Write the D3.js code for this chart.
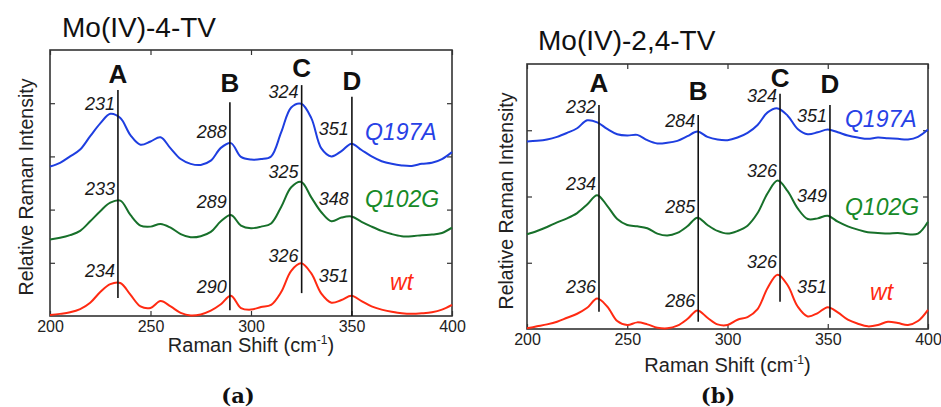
<!DOCTYPE html>
<html>
<head>
<meta charset="utf-8">
<script src="https://cdn.jsdelivr.net/npm/d3@7"></script>
<style>
  body { margin: 0; background: #fff; }
  svg { display: block; font-family: "Liberation Sans", Arial, sans-serif; }
</style>
</head>
<body>
<svg id="chart" width="941" height="407"></svg>
<script>
// Raman shift sampling (cm-1), shared by all traces
const shift = [200,205,210,215,220,225,230,235,240,245,250,255,260,265,270,275,280,285,290,295,
               300,305,310,315,320,325,330,335,340,345,350,355,360,365,370,375,380,385,390,395,400];

const seriesNames = ["Q197A", "Q102G", "wt"];
const xTicks = [200, 250, 300, 350, 400];
const markerNames = ["A", "B", "C", "D"];

// panel (a) Mo(IV)-4-TV, offset traces
const a_Q197A = [2.81,2.88,3.00,3.13,3.38,3.62,3.80,3.72,3.40,3.22,3.28,3.36,3.15,2.95,2.86,2.84,2.92,3.16,3.25,2.99,
                 2.94,2.95,3.00,3.45,3.92,3.99,3.72,3.15,3.00,3.10,3.24,3.12,3.00,2.91,2.86,2.83,2.82,2.86,2.88,2.95,3.08];
const a_Q102G = [1.44,1.47,1.52,1.60,1.78,1.97,2.13,2.17,1.90,1.70,1.68,1.73,1.66,1.54,1.48,1.50,1.58,1.78,1.90,1.70,
                 1.65,1.68,1.74,2.05,2.42,2.52,2.23,1.95,1.78,1.85,1.87,1.77,1.68,1.60,1.54,1.50,1.50,1.52,1.53,1.56,1.66];
const a_wt    = [0.02,0.04,0.07,0.13,0.25,0.45,0.60,0.62,0.40,0.18,0.15,0.28,0.18,0.06,0.01,0.03,0.10,0.22,0.38,0.15,
                 0.12,0.17,0.21,0.45,0.85,0.99,0.80,0.42,0.25,0.30,0.38,0.28,0.18,0.12,0.08,0.05,0.04,0.05,0.07,0.12,0.21];
const a_yTicks = [1, 2, 3, 4];
const a_markerShift = [233.8, 289.5, 325.2, 350.2];
const a_markerTop = [4.25, 4.02, 4.34, 4.12];
const a_markerBottom = [0.34, 0.11, 0.43, 0.0];
const a_letterY = [4.38, 4.21, 4.49, 4.25];
const a_peaks = [[231, 288, 324, 351], [233, 289, 325, 348], [234, 290, 326, 351]];
const a_peakY = [[3.87, 3.35, 4.10, 3.40], [2.27, 2.03, 2.59, 2.09], [0.73, 0.43, 1.02, 0.64]];
const a_nameX = [356.7, 356.7, 369.2];
const a_nameY = [3.31, 2.05, 0.49];

// panel (b) Mo(IV)-2,4-TV
const b_Q197A = [2.83,2.84,2.86,2.90,2.96,3.03,3.15,3.12,3.02,2.94,2.92,2.93,2.85,2.80,2.81,2.84,2.91,2.98,2.90,2.86,
                 2.85,2.89,2.96,3.08,3.27,3.33,3.22,3.02,2.94,2.97,3.01,2.97,2.92,2.89,2.87,2.89,2.88,2.87,2.86,2.90,3.01];
const b_Q102G = [1.43,1.48,1.54,1.61,1.67,1.75,1.88,2.02,1.86,1.66,1.57,1.55,1.52,1.44,1.41,1.45,1.55,1.68,1.57,1.48,
                 1.44,1.48,1.56,1.75,2.05,2.24,2.08,1.82,1.66,1.67,1.71,1.62,1.55,1.50,1.46,1.45,1.44,1.45,1.43,1.44,1.62];
const b_wt    = [0.01,0.04,0.07,0.11,0.17,0.23,0.32,0.46,0.34,0.12,0.06,0.10,0.07,0.02,0.01,0.05,0.15,0.28,0.17,0.07,
                 0.06,0.14,0.18,0.30,0.62,0.82,0.66,0.34,0.19,0.24,0.33,0.25,0.14,0.08,0.04,0.06,0.11,0.09,0.06,0.12,0.29];
const b_yTicks = [1, 2, 3];
const b_markerShift = [235.9, 285.4, 326.2, 351.1];
const b_markerTop = [3.38, 3.23, 3.55, 3.38];
const b_markerBottom = [0.26, 0.11, 0.41, 0.17];
const b_letterY = [3.58, 3.45, 3.66, 3.56];
const b_peaks = [[232, 284, 324, 351], [234, 285, 326, 349], [236, 286, 326, 351]];
const b_peakY = [[3.26, 3.05, 3.43, 3.12], [2.10, 1.75, 2.29, 1.92], [0.54, 0.33, 0.92, 0.54]];
const b_nameX = [358.6, 358.6, 371.1];
const b_nameY = [3.05, 1.72, 0.44];

const lineColors = ["#1e3ee0", "#17702a", "#ff2a12"];
const textColors = ["#2741e6", "#168a28", "#ff2a12"];

const svg = d3.select("#chart");

function drawPanel(p) {
  const x = d3.scaleLinear().domain([200, 400]).range([p.left, p.right]);
  const y = d3.scaleLinear().domain([0, p.yMax]).range([p.bottom, p.top]);
  const g = svg.append("g");

  g.append("text")
    .attr("x", p.titleX).attr("y", p.titleY)
    .attr("font-size", 28).attr("fill", "#111")
    .text(p.title);

  // axes, ticks on the inside of the box
  g.append("g").attr("transform", `translate(0,${p.bottom})`)
    .call(d3.axisBottom(x).tickValues(xTicks).tickSize(-5).tickPadding(5))
    .call(a => a.select(".domain").remove())
    .call(a => a.selectAll("text").attr("font-size", 16).attr("fill", "#222")
      .attr("font-family", "Liberation Sans, Arial, sans-serif"));
  g.append("g").attr("transform", `translate(0,${p.top})`)
    .call(d3.axisTop(x).tickValues(xTicks).tickSize(-5).tickFormat(""))
    .call(a => a.select(".domain").remove());
  g.append("g").attr("transform", `translate(${p.left},0)`)
    .call(d3.axisLeft(y).tickValues(p.yTicks).tickSize(-5).tickFormat(""))
    .call(a => a.select(".domain").remove());
  g.append("g").attr("transform", `translate(${p.right},0)`)
    .call(d3.axisRight(y).tickValues(p.yTicks).tickSize(-5).tickFormat(""))
    .call(a => a.select(".domain").remove());
  g.selectAll(".tick line").attr("stroke", "#333").attr("stroke-width", 1.2);

  g.append("rect")
    .attr("x", p.left).attr("y", p.top)
    .attr("width", p.right - p.left).attr("height", p.bottom - p.top)
    .attr("fill", "none").attr("stroke", "#333").attr("stroke-width", 1.6);

  // spectra
  const line = d3.line()
    .x((d, i) => x(shift[i]))
    .y(d => y(d))
    .curve(d3.curveCatmullRom);
  p.series.forEach((s, k) => {
    g.append("path")
      .datum(s)
      .attr("d", line)
      .attr("fill", "none")
      .attr("stroke", lineColors[k])
      .attr("stroke-width", 2);
  });

  // peak marker lines and letters
  markerNames.forEach((m, i) => {
    g.append("line")
      .attr("x1", x(p.markerShift[i])).attr("x2", x(p.markerShift[i]))
      .attr("y1", y(p.markerTop[i])).attr("y2", y(p.markerBottom[i]))
      .attr("stroke", "#111").attr("stroke-width", 1.6);
    g.append("text")
      .attr("x", x(p.markerShift[i])).attr("y", y(p.letterY[i]))
      .attr("text-anchor", "middle")
      .attr("font-size", 26).attr("font-weight", "bold").attr("fill", "#111")
      .text(m);
  });

  // peak position labels
  p.peaks.forEach((row, k) => {
    row.forEach((v, i) => {
      g.append("text")
        .attr("x", x(p.markerShift[i]) - 3).attr("y", y(p.peakY[k][i]))
        .attr("text-anchor", "end")
        .attr("font-size", 18).attr("font-style", "italic").attr("fill", "#1a1a1a")
        .text(v);
    });
  });

  // series names
  seriesNames.forEach((n, k) => {
    g.append("text")
      .attr("x", x(p.nameX[k])).attr("y", y(p.nameY[k]))
      .attr("font-size", 23).attr("font-style", "italic")
      .attr("fill", textColors[k])
      .text(n);
  });

  // axis titles
  const xl = g.append("text")
    .attr("x", (p.left + p.right) / 2).attr("y", p.xLabelY)
    .attr("text-anchor", "middle").attr("font-size", 20).attr("fill", "#222");
  xl.append("tspan").text("Raman Shift (cm");
  xl.append("tspan").attr("font-size", 12).attr("dy", -8).text("-1");
  xl.append("tspan").attr("dy", 8).text(")");

  g.append("text")
    .attr("transform", `translate(${p.yLabelX},${p.yLabelY}) rotate(-90)`)
    .attr("text-anchor", "middle").attr("font-size", 19.5).attr("fill", "#222")
    .text("Relative Raman Intensity");

  g.append("text")
    .attr("x", p.tagX).attr("y", 403)
    .attr("text-anchor", "middle")
    .attr("font-family", "DejaVu Serif, Liberation Serif, serif")
    .attr("font-size", 21).attr("font-weight", "bold").attr("fill", "#111")
    .text(p.tag);
}

drawPanel({
  title: "Mo(IV)-4-TV", titleX: 62, titleY: 37, tag: "(a)", tagX: 238,
  left: 50, right: 452, top: 50, bottom: 316, yMax: 5, yTicks: a_yTicks,
  series: [a_Q197A, a_Q102G, a_wt],
  markerShift: a_markerShift, markerTop: a_markerTop, markerBottom: a_markerBottom, letterY: a_letterY,
  peaks: a_peaks, peakY: a_peakY, nameX: a_nameX, nameY: a_nameY,
  xLabelY: 352, yLabelX: 33, yLabelY: 187
});

drawPanel({
  title: "Mo(IV)-2,4-TV", titleX: 538, titleY: 50, tag: "(b)", tagX: 718,
  left: 527, right: 928, top: 64, bottom: 329, yMax: 4, yTicks: b_yTicks,
  series: [b_Q197A, b_Q102G, b_wt],
  markerShift: b_markerShift, markerTop: b_markerTop, markerBottom: b_markerBottom, letterY: b_letterY,
  peaks: b_peaks, peakY: b_peakY, nameX: b_nameX, nameY: b_nameY,
  xLabelY: 372, yLabelX: 513, yLabelY: 201
});
</script>
</body>
</html>
